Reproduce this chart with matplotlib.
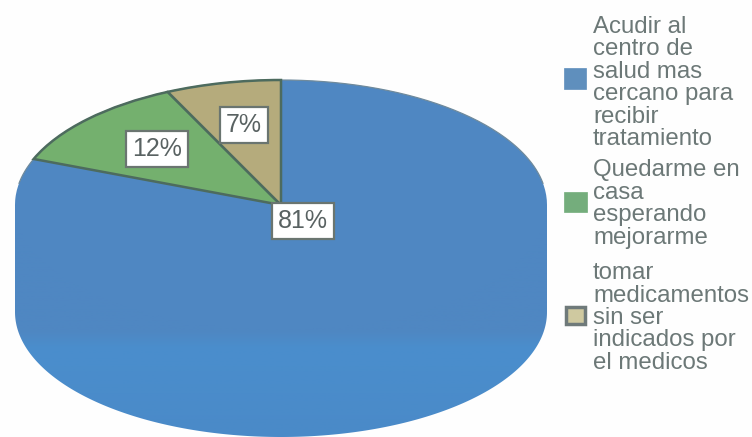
import numpy as np
from matplotlib import pyplot as plt
from matplotlib.colors import LinearSegmentedColormap
from matplotlib.patches import Polygon, Rectangle

plt.rcParams['font.family'] = ['Liberation Sans', 'DejaVu Sans']

# Datos del grafico
valores = [81, 12, 7]
etiquetas = ['81%', '12%', '7%']
colores = ['#4f87c2', '#74b06e', '#b5ab7c']
bordes = ['none', '#4d6b5e', '#4d6b5e']
leyenda = [
    'Acudir al\ncentro de\nsalud mas\ncercano para\nrecibir\ntratamiento',
    'Quedarme en\ncasa\nesperando\nmejorarme',
    'tomar\nmedicamentos\nsin ser\nindicados por\nel medicos',
]

W, H = 752, 437
cx, cy, rx, ry = 281, 205, 266, 125
prof = 107

fig = plt.figure(figsize=(W / 100, H / 100), dpi=100, facecolor='#fefefe')

# Capa de fondo en pixeles: cuerpo del cilindro
bg = fig.add_axes([0, 0, 1, 1])
bg.set_xlim(0, W)
bg.set_ylim(H, 0)
bg.axis('off')

# El cuerpo sube hasta el centro para que no quede costura bajo la cara superior
t = np.linspace(np.pi, 0, 200)
abajo = np.column_stack([cx + rx * np.cos(t), cy + prof + ry * np.sin(t)])
cuerpo = Polygon(np.vstack([[[cx - rx, cy]], abajo, [[cx + rx, cy]]]), closed=True, fc='none', ec='none')
bg.add_patch(cuerpo)

cmap = LinearSegmentedColormap.from_list('lateral', [
    (0.00, '#4f87c2'), (0.54, '#4f87c2'), (0.62, '#4a8ecd'), (1.00, '#4a8ac8')])
grad = np.linspace(0, 1, 256).reshape(-1, 1)
img = bg.imshow(grad, cmap=cmap, aspect='auto',
                extent=[cx - rx, cx + rx, cy + ry + prof, cy])
img.set_clip_path(cuerpo)
bg.set_xlim(0, W)
bg.set_ylim(H, 0)

# Cara superior de la torta, aplastada por la forma de los ejes
ax = fig.add_axes([(cx - rx) / W, 1 - (cy + ry) / H, 2 * rx / W, 2 * ry / H])
wedges, _ = ax.pie(valores, colors=colores, startangle=90, counterclock=False,
                   radius=1, frame=False)
ax.set_aspect('auto')
ax.set_xlim(-1, 1)
ax.set_ylim(-1, 1)
ax.patch.set_alpha(0)
for w, b in zip(wedges, bordes):
    w.set_edgecolor(b)
    w.set_linewidth(1.8)
wedges[1].set_zorder(3)
wedges[2].set_zorder(3)

# Contorno fino de la parte de atras
arco = np.radians(np.linspace(10, 170, 200))
ax.plot(np.cos(arco), np.sin(arco), color='#6f8a9c', lw=0.9, zorder=2, clip_on=False)

# Cajas con los porcentajes
capa = fig.add_axes([0, 0, 1, 1])
capa.set_xlim(0, W)
capa.set_ylim(H, 0)
capa.axis('off')
capa.patch.set_alpha(0)

pos_etiquetas = [(303, 221), (157, 149), (244, 125)]
for (x, y), txt in zip(pos_etiquetas, etiquetas):
    capa.text(x, y, txt, ha='center', va='center', fontsize=18, color='#596262',
              bbox=dict(boxstyle='square,pad=0.24', fc='white', ec='#6a7570', lw=1.6))

# Leyenda
pos_texto = [83, 204, 318]
cuadros = [(564, 68, 22, 21), (564, 192, 23, 20), (566, 307, 19, 17)]
color_cuadro = ['#5f8fbd', '#74ad7c', '#cfc9a0']
borde_cuadro = ['#5f8fbd', '#74ad7c', '#6f7a7a']
for i in range(3):
    x, y, a, h = cuadros[i]
    capa.add_patch(Rectangle((x, y), a, h, fc=color_cuadro[i], ec=borde_cuadro[i], lw=2.5 if i == 2 else 0.5))
    capa.text(593, pos_texto[i], leyenda[i], ha='left', va='center', fontsize=17.3,
              color='#6c7877', linespacing=1.02)

fig.savefig('out.png', dpi=100, facecolor=fig.get_facecolor())
